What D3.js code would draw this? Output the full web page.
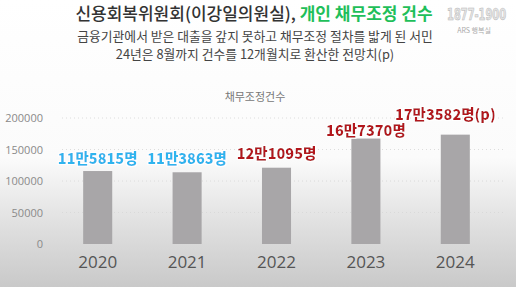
<!DOCTYPE html>
<html>
<head>
<meta charset="utf-8">
<script src="https://cdn.jsdelivr.net/npm/d3@7"></script>
<style>
  html, body { margin: 0; padding: 0; background: #fff; }
  svg { display: block; font-family: "Noto Sans CJK KR", "Noto Sans", sans-serif; }
</style>
</head>
<body>
<svg id="chart" width="516" height="287"></svg>
<script>
// data
const years = ["2020", "2021", "2022", "2023", "2024"];
const counts = [115815, 113863, 121095, 167370, 173582];
const valueLabels = ["11만5815명", "11만3863명", "12만1095명", "16만7370명", "17만3582명(p)"];
const labelKinds = ["old", "old", "new", "new", "new"];
const yTicks = [0, 50000, 100000, 150000, 200000];

const COLORS = {
    old: "#2fb4ee",
    new: "#b3141a",
    bar: "#a8a6a8",
    green: "#1fbf5a"
};

const W = 516, H = 287;
const svg = d3.select("#chart");

// background: white fading to grey at the bottom
const defs = svg.append("defs");
const grad = defs.append("linearGradient")
    .attr("id", "bg").attr("x1", 0).attr("y1", 0).attr("x2", 0).attr("y2", 1);
grad.append("stop").attr("offset", "0%").attr("stop-color", "#ffffff");
grad.append("stop").attr("offset", "55%").attr("stop-color", "#fbfbfb");
grad.append("stop").attr("offset", "80%").attr("stop-color", "#dedede");
grad.append("stop").attr("offset", "100%").attr("stop-color", "#c9c9c9");
svg.append("rect").attr("width", W).attr("height", H).attr("fill", "url(#bg)");

const glow = defs.append("filter").attr("id", "glow")
    .attr("x", "-10%").attr("y", "-30%").attr("width", "120%").attr("height", "160%");
glow.append("feMorphology").attr("in", "SourceAlpha").attr("operator", "dilate").attr("radius", 1.2).attr("result", "d");
glow.append("feFlood").attr("flood-color", "#ffffff");
glow.append("feComposite").attr("in2", "d").attr("operator", "in").attr("result", "w");
const m = glow.append("feMerge");
m.append("feMergeNode").attr("in", "w");
m.append("feMergeNode").attr("in", "SourceGraphic");

// scales
const x = d3.scaleBand().domain(years).range([53, 500]).paddingInner(0.675).paddingOuter(0.3375);
const y = d3.scaleLinear().domain([0, 200000]).range([244, 118]);

// gridlines
svg.append("g")
    .selectAll("line")
    .data(yTicks.slice(1))
    .enter().append("line")
    .attr("x1", 62).attr("x2", 505)
    .attr("y1", d => y(d)).attr("y2", d => y(d))
    .attr("stroke", "#d6d6d6")
    .attr("stroke-width", 0.8)
    .attr("stroke-dasharray", "1,3");

// y axis
const yAxis = svg.append("g")
    .attr("transform", "translate(43,0)")
    .call(d3.axisLeft(y).tickValues(yTicks).tickSize(0).tickPadding(0).tickFormat(d3.format("d")));
yAxis.select(".domain").remove();
yAxis.selectAll("text")
    .attr("fill", "#8a8a8a")
    .attr("font-size", "11px")
    .attr("font-family", "'Open Sans', 'Noto Sans', sans-serif");

// x axis
const xAxis = svg.append("g")
    .attr("transform", "translate(0,252)")
    .call(d3.axisBottom(x).tickSize(0).tickPadding(0));
xAxis.select(".domain").remove();
xAxis.selectAll("text")
    .attr("fill", "#555")
    .attr("font-size", "17px")
    .attr("font-family", "'Open Sans', 'Noto Sans', sans-serif")
    .attr("dy", "0.95em");

// bars
svg.append("g")
    .selectAll("rect")
    .data(years)
    .enter().append("rect")
    .attr("x", d => x(d))
    .attr("width", x.bandwidth())
    .attr("y", (d, i) => y(counts[i]))
    .attr("height", (d, i) => y(0) - y(counts[i]))
    .attr("fill", COLORS.bar);

// value labels (nudges keep the slight unevenness of the original)
const labelLift = [7, 8, 9, 3, 15];
const labelShift = [0, 0, 0, 0, -10];
svg.append("g")
    .selectAll("text")
    .data(years)
    .enter().append("text")
    .attr("x", (d, i) => x(d) + x.bandwidth() / 2 + labelShift[i])
    .attr("y", (d, i) => y(counts[i]) - labelLift[i])
    .attr("text-anchor", "middle")
    .attr("font-size", "14.5px")
    .attr("font-weight", 800)
    .attr("fill", (d, i) => COLORS[labelKinds[i]])
    .attr("filter", "url(#glow)")
    .text((d, i) => valueLabels[i]);

// chart caption
svg.append("text")
    .attr("x", 255).attr("y", 101)
    .attr("text-anchor", "middle")
    .attr("font-size", "11px")
    .attr("fill", "#777")
    .text("채무조정건수");

// headline
const head = svg.append("text")
    .attr("x", 254).attr("y", 19.5)
    .attr("text-anchor", "middle")
    .attr("font-size", "17px")
    .attr("font-weight", 500);
head.append("tspan").attr("fill", "#333").text("신용회복위원회(이강일의원실), ");
head.append("tspan").attr("fill", COLORS.green).attr("font-weight", "bold").text("개인 채무조정 건수");

svg.append("text")
    .attr("x", 255).attr("y", 41)
    .attr("text-anchor", "middle")
    .attr("font-size", "12.8px")
    .attr("fill", "#444")
    .text("금융기관에서 받은 대출을 갚지 못하고 채무조정 절차를 밟게 된 서민");
svg.append("text")
    .attr("x", 255).attr("y", 59)
    .attr("text-anchor", "middle")
    .attr("font-size", "12.8px")
    .attr("fill", "#444")
    .text("24년은 8월까지 건수를 12개월치로 환산한 전망치(p)");

// logo in the corner, squeezed so it fits the edge
svg.append("text")
    .attr("transform", "translate(447,20) scale(0.66,1)")
    .attr("font-size", "15px")
    .attr("font-weight", "bold")
    .attr("fill", "#e6e6e6")
    .attr("stroke", "#b5b5b5")
    .attr("stroke-width", 0.6)
    .attr("font-family", "'DejaVu Sans', sans-serif")
    .text("1877-1900");
svg.append("text")
    .attr("x", 474).attr("y", 33)
    .attr("text-anchor", "middle")
    .attr("font-size", "7px")
    .attr("fill", "#aaa")
    .text("ARS 행복실");
</script>
</body>
</html>
